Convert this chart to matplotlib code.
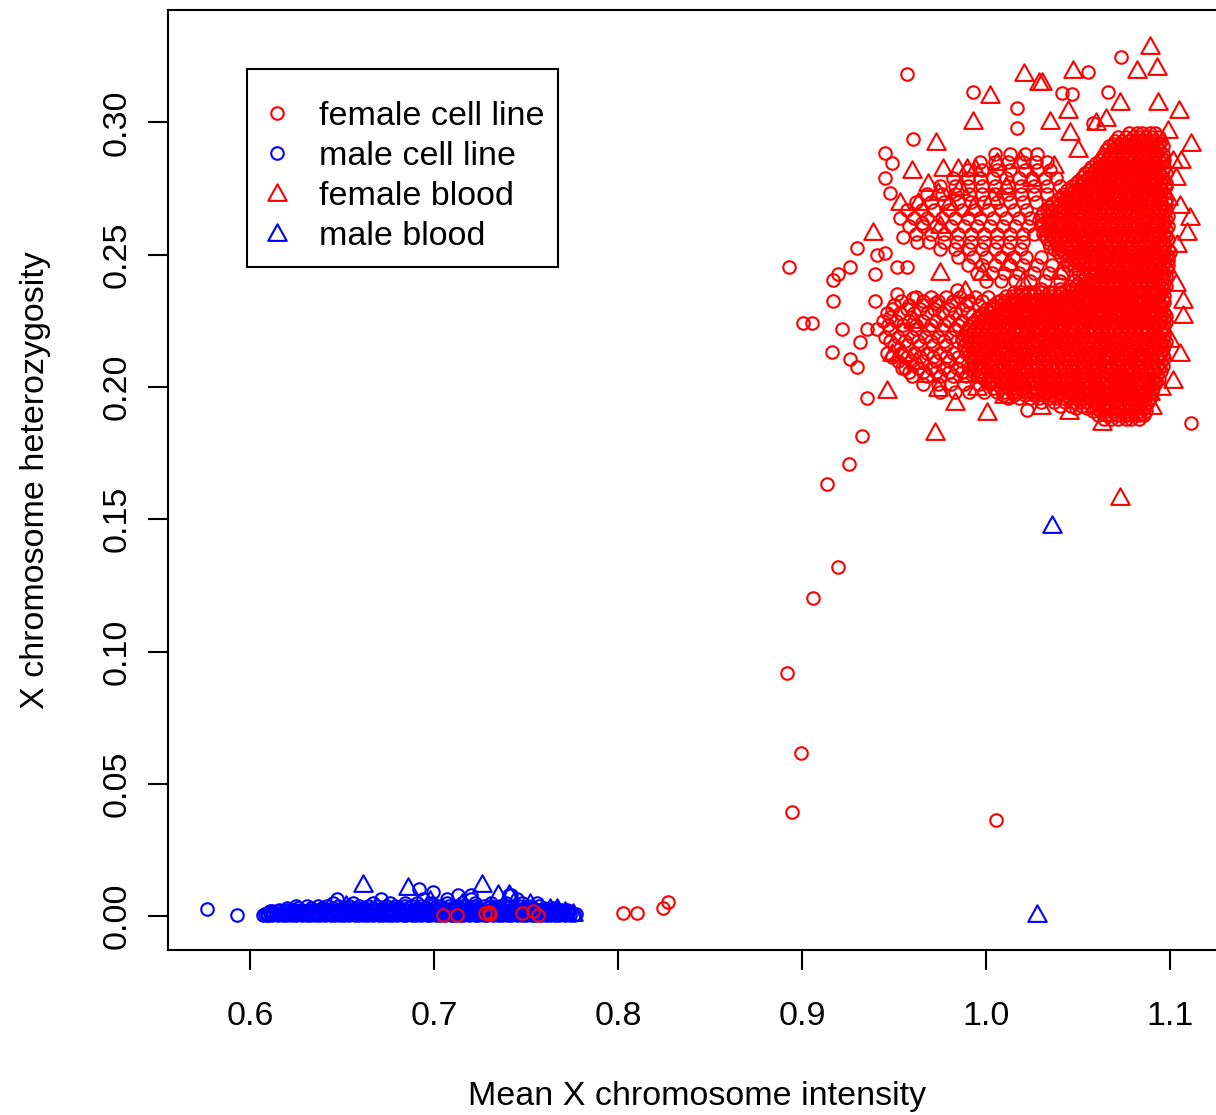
import matplotlib
matplotlib.use('Agg')
import matplotlib.pyplot as plt
from matplotlib.lines import Line2D
from matplotlib.patches import Rectangle
from matplotlib.path import Path

plt.rcParams['font.family'] = ['Liberation Sans', 'DejaVu Sans']

# ---- data ----
# rows are (y, "x x x ...") with both values in 1/1000 units

# male cell line (blue circles)
male_cell_x = [0.5766, 0.5929, 0.609, 0.611, 0.6995, 0.692, 0.742]
male_cell_y = [0.0026, 0.0004, 0.0005, 0.0020, 0.0090, 0.0102, 0.0080]
male_cell_rows = [
    (0.2, "607 610 612 615 618 620 623 625 628 631 633 636 638 641 644 646 649 651 654 657 659 662 664 667 670 672 675 677 680 683 685 688 690 693 696 698 701 703 706 709 711 714 716 719 722 724 727 729 732 735 737 740 742 745 748 750 753 755 758 761 763 766 768 771 774 776"),
    (0.7, "608 612 616 619 623 627 630 634 638 641 645 649 652 656 660 663 667 671 674 678 682 685 689 693 696 700 704 707 711 715 718 722 726 729 733 737 740 744 748 751 755 759 762 766 770 773 777"),
    (1.3, "609 611 614 617 619 622 624 627 630 632 635 637 640 643 645 648 650 653 656 658 661 663 666 669 671 674 676 679 682 684 687 689 692 695 697 700 702 705 708 710 713 715 718 721 723 726 728 731 734 736 739 741 744 747 749 752 754 757 760 762 765 767 770 773"),
    (1.8, "612 615 619 623 626 630 634 637 641 645 648 652 656 659 663 667 670 674 678 681 685 689 692 696 700 703 707 711 714 718 722 725 729 733 736 740 744 747 751 755 758 762 766 769 773"),
    (2.4, "616 620 624 628 632 636 639 643 647 651 655 658 662 666 670 674 677 681 685 689 693 696 700 704 708 712 715 719 723 727 731 734 738 742 746 750 753 757 761 765 769 772"),
    (3.0, "620 626 633 639 645 651 657 662 667 672 677 681 686 691 695 700 705 710 714 719 724 729 734 739 744 749 754 760 765"),
    (3.6, "625 631 637 642 648 654 659 664 669 674 679 684 688 693 698 703 708 712 717 722 727 731 736 741 746 751 757"),
    (5.0, "645 656 667 676 684 691 699 707 715 722 731 739 748 756"),
    (6.6, "647 671 694 707 720 745"),
    (8.0, "713 720 741"),
]

# male blood (blue triangles)
male_blood_x = [0.6614, 0.686, 0.726, 0.735, 0.741, 0.7755, 0.771, 0.767,
                0.652, 0.698, 0.715, 0.752, 0.763, 1.0359, 1.0277]
male_blood_y = [0.0122, 0.0108, 0.0122, 0.0085, 0.0082, 0.0012, 0.0020, 0.0030,
                0.0040, 0.0060, 0.0050, 0.0050, 0.0030, 0.1478, 0.0008]

# female cell line (red circles): isolated points
female_cell_x = [0.705, 0.7125, 0.7277, 0.7300, 0.7305, 0.748, 0.7538, 0.7565,
                 0.8027, 0.8103, 0.8245, 0.827,
                 0.8944, 0.8993, 0.8920, 0.9062, 0.9197, 0.9134, 0.9257, 0.9324,
                 0.9351, 1.0054, 1.1117, 1.0221,
                 0.8931, 0.9007, 0.9053, 0.9170, 0.9197, 0.9261, 0.9297, 0.9170,
                 0.9397, 0.9397, 0.9406, 0.9451, 0.9514, 0.9569, 0.9514, 0.9605,
                 0.9215, 0.9351, 0.9406, 0.9315, 0.9478, 0.9161, 0.9261, 0.9297,
                 0.9723, 0.9840, 0.9541,
                 0.9569, 0.9928, 1.0167, 1.0167, 0.9605, 0.9451, 0.9490, 0.9451,
                 0.9650, 0.9549, 0.9623, 0.9478, 1.0734, 1.0556, 1.0411, 1.0470,
                 1.0665, 1.0583]
female_cell_y = [0.0004, 0.0004, 0.0010, 0.0015, 0.0008, 0.0010, 0.0020, 0.0004,
                 0.0010, 0.0010, 0.0030, 0.0053,
                 0.0392, 0.0617, 0.0920, 0.1203, 0.1320, 0.1633, 0.1708, 0.1814,
                 0.1960, 0.0363, 0.1863, 0.1913,
                 0.2454, 0.2243, 0.2243, 0.2403, 0.2428, 0.2454, 0.2524, 0.2326,
                 0.2428, 0.2326, 0.2498, 0.2505, 0.2454, 0.2454, 0.2352, 0.2338,
                 0.2219, 0.2219, 0.2219, 0.2171, 0.2265, 0.2134, 0.2105, 0.2076,
                 0.2316, 0.2367, 0.2071,
                 0.3182, 0.3114, 0.3056, 0.2978, 0.2938, 0.2885, 0.2847, 0.2790,
                 0.2619, 0.2568, 0.2549, 0.2733, 0.3246, 0.3190, 0.3113, 0.3106,
                 0.3117, 0.2997]

# female cell line: the busy area left of the two dense lobes
female_cell_mid_rows = [
    (288, "1005 1013 1021 1028"),
    (285, "997 1005 1012 1020 1027 1033"),
    (282, "990 998 1006 1013 1021 1028 1035"),
    (279, "982 990 997 1004 1011 1018 1025 1032 1038"),
    (276, "975 983 990 998 1005 1012 1019 1026 1033 1040"),
    (273, "968 976 983 991 998 1005 1012 1019 1026 1033"),
    (270, "962 970 977 985 992 999 1006 1013 1020 1027"),
    (267, "957 965 972 980 987 994 1001 1008 1015 1022"),
    (264, "953 961 968 976 983 990 997 1004 1011 1018 1024"),
    (261, "958 966 973 981 988 995 1002 1009 1016 1023"),
    (258, "962 970 977 985 992 999 1006 1013 1020 1026"),
    (255, "969 977 984 992 999 1006 1013 1020"),
    (252, "975 983 991 998 1005 1012 1019"),
    (249, "985 993 1000 1008 1015 1022 1030"),
    (246, "990 998 1005 1013 1020 1028 1036 1044"),
    (243, "995 1003 1010 1018 1026 1034 1042 1050"),
    (240, "1000 1008 1016 1024 1032 1040 1048"),
    (234, "962 970 978 986 994 1001"),
    (232.5, "954 966 974 982 990 998"),
    (231, "950 958 966 974 981 989 996"),
    (229.5, "949 957 964 972 980 987"),
    (228, "946 953 961 968 976 983 990"),
    (225, "944 951 958 966 973 980 987"),
    (223.5, "947 955 962 970 977 985"),
    (222, "948 955 962 969 976 983"),
    (219, "945 952 960 967 974 981"),
    (217.5, "948 956 963 970 977 984"),
    (216, "950 957 964 971 978"),
    (213, "946 954 961 968 975 982"),
    (211.5, "949 957 964 971 978 985"),
    (210, "952 959 966 973 980 987"),
    (207, "956 963 970 977 984 991"),
    (205.5, "958 966 973 980 987 993"),
    (204, "960 968 975 982 989 995"),
    (201, "966 974 981 988 996"),
    (198, "975 983 991 999"),
]

# female cell line: the two solid lobes
female_cell_core_rows = [
    (296, "1078 1082 1085 1089 1092"),
    (294.5, "1072 1076 1080 1083 1087 1090 1094"),
    (293, "1070 1074 1077 1081 1084 1088 1091 1095"),
    (291, "1067 1071 1075 1078 1082 1085 1089 1093 1096"),
    (289.5, "1065 1069 1073 1076 1080 1083 1087 1091 1094"),
    (288, "1064 1067 1071 1074 1078 1082 1085 1089 1092 1096"),
    (286, "1062 1066 1069 1073 1076 1080 1084 1087 1091 1094 1097"),
    (284.5, "1060 1064 1067 1071 1074 1078 1082 1085 1089 1092 1096"),
    (283, "1057 1061 1064 1068 1072 1075 1079 1082 1086 1090 1093 1097"),
    (281, "1054 1058 1062 1065 1069 1073 1076 1080 1083 1087 1091 1094 1098"),
    (279.5, "1052 1056 1060 1063 1067 1071 1074 1078 1081 1085 1089 1092 1096"),
    (278, "1050 1053 1057 1061 1064 1068 1071 1075 1079 1082 1086 1089 1093 1096"),
    (276, "1047 1051 1055 1058 1062 1066 1069 1073 1076 1080 1084 1087 1091 1094 1098"),
    (274.5, "1044 1048 1052 1056 1059 1063 1067 1070 1074 1077 1081 1085 1088 1092 1095"),
    (273, "1042 1046 1049 1053 1057 1060 1064 1068 1071 1075 1078 1082 1086 1089 1093 1097"),
    (271, "1039 1043 1047 1050 1054 1058 1061 1065 1069 1072 1076 1079 1083 1087 1090 1094 1098"),
    (269.5, "1036 1040 1044 1048 1052 1055 1059 1063 1066 1070 1073 1077 1081 1084 1088 1091 1095 1098"),
    (268, "1034 1038 1042 1045 1049 1053 1056 1060 1063 1067 1071 1074 1078 1082 1085 1089 1092 1096"),
    (266, "1031 1035 1039 1042 1046 1050 1053 1057 1061 1064 1068 1071 1075 1079 1082 1086 1090 1093 1097"),
    (264.5, "1030 1034 1038 1041 1045 1049 1052 1056 1060 1063 1067 1070 1074 1078 1081 1085 1088 1092 1096 1099"),
    (263, "1029 1033 1036 1040 1044 1047 1051 1055 1058 1062 1065 1069 1073 1076 1080 1084 1087 1091 1094 1098"),
    (261, "1030 1034 1038 1041 1045 1049 1052 1056 1060 1063 1067 1070 1074 1078 1081 1085 1089 1092 1096 1099"),
    (259.5, "1032 1036 1040 1043 1047 1051 1054 1058 1062 1065 1069 1073 1076 1080 1084 1087 1091 1095 1098"),
    (258, "1031 1035 1039 1043 1046 1050 1054 1057 1061 1065 1068 1072 1075 1079 1083 1086 1090 1094 1097"),
    (256, "1033 1037 1041 1044 1048 1052 1055 1059 1063 1066 1070 1074 1077 1081 1084 1088 1092 1095 1099"),
    (254.5, "1034 1038 1042 1046 1049 1053 1057 1060 1064 1068 1071 1075 1079 1082 1086 1089 1093 1097"),
    (253, "1035 1039 1043 1046 1050 1054 1057 1061 1065 1068 1072 1076 1079 1083 1086 1090 1094 1097"),
    (251, "1039 1042 1046 1050 1053 1057 1061 1064 1068 1072 1075 1079 1083 1086 1090 1093 1097 1100"),
    (249.5, "1041 1045 1049 1053 1056 1060 1064 1067 1071 1075 1078 1082 1086 1089 1093 1096 1099"),
    (248, "1044 1048 1051 1055 1059 1062 1066 1070 1073 1077 1081 1084 1088 1091 1095 1099"),
    (246, "1048 1052 1056 1059 1063 1067 1070 1074 1078 1081 1085 1088 1092 1096 1099"),
    (244.5, "1050 1054 1058 1062 1065 1069 1073 1076 1080 1084 1087 1091 1094 1098"),
    (243, "1053 1057 1060 1064 1068 1071 1075 1079 1082 1086 1089 1093 1097"),
    (241, "1056 1060 1064 1067 1071 1075 1078 1082 1086 1089 1093 1096"),
    (239.5, "1050 1054 1058 1062 1065 1069 1073 1076 1080 1084 1087 1091 1094 1097"),
    (238, "1045 1049 1052 1055 1058 1062 1066 1069 1073 1077 1080 1084 1087 1091 1095 1098"),
    (236, "1015 1019 1023 1026 1030 1034 1037 1041 1045 1048 1052 1056 1059 1063 1066 1070 1074 1077 1081 1085 1088 1092 1095"),
    (234.5, "1011 1014 1018 1021 1025 1029 1032 1036 1039 1043 1047 1050 1054 1058 1061 1065 1068 1072 1076 1079 1083 1087 1090 1094 1097"),
    (233, "1008 1012 1016 1019 1023 1027 1030 1034 1038 1041 1045 1049 1052 1056 1059 1063 1067 1070 1074 1078 1081 1085 1088 1092 1096"),
    (231, "1004 1008 1011 1015 1019 1022 1026 1030 1033 1037 1041 1044 1048 1051 1055 1059 1062 1066 1070 1073 1077 1080 1084 1088 1091 1095"),
    (229.5, "1000 1004 1007 1011 1015 1018 1022 1026 1029 1033 1037 1040 1044 1047 1051 1055 1058 1062 1066 1069 1073 1077 1080 1084 1087 1091 1095"),
    (228, "998 1002 1006 1009 1013 1017 1020 1024 1028 1031 1035 1039 1042 1046 1049 1053 1057 1060 1064 1068 1071 1075 1079 1082 1086 1089 1093 1097"),
    (226, "995 999 1003 1006 1010 1014 1017 1021 1025 1028 1032 1036 1039 1043 1046 1050 1054 1057 1061 1065 1068 1072 1076 1079 1083 1086 1090 1094 1097"),
    (224.5, "993 997 1001 1004 1008 1012 1015 1019 1023 1026 1030 1034 1037 1041 1044 1048 1052 1055 1059 1063 1066 1070 1074 1077 1081 1085 1088 1092 1095 1098"),
    (223, "991 995 999 1002 1006 1010 1013 1017 1021 1024 1028 1031 1035 1039 1042 1046 1050 1053 1057 1061 1064 1068 1071 1075 1079 1082 1086 1090 1093 1097"),
    (221, "989 993 996 1000 1004 1007 1011 1015 1018 1022 1026 1029 1033 1036 1040 1044 1047 1051 1055 1058 1062 1066 1069 1073 1076 1080 1084 1087 1091 1095"),
    (219.5, "988 991 995 999 1002 1006 1010 1013 1017 1021 1024 1028 1031 1035 1039 1042 1046 1050 1053 1057 1061 1064 1068 1072 1075 1079 1082 1086 1090 1093 1097"),
    (218, "987 991 994 998 1002 1005 1009 1013 1016 1020 1024 1027 1031 1034 1038 1042 1045 1049 1053 1056 1060 1064 1067 1071 1074 1078 1082 1085 1089 1093 1096"),
    (216, "988 992 995 999 1003 1006 1010 1014 1017 1021 1025 1028 1032 1035 1039 1043 1046 1050 1054 1057 1061 1065 1068 1072 1075 1079 1083 1086 1090 1094 1097"),
    (214.5, "990 994 997 1001 1005 1008 1012 1016 1019 1023 1027 1030 1034 1037 1041 1045 1048 1052 1056 1059 1063 1067 1070 1074 1077 1081 1085 1088 1092 1096"),
    (213, "989 993 997 1000 1004 1008 1011 1015 1019 1022 1026 1029 1033 1037 1040 1044 1048 1051 1055 1059 1062 1066 1069 1073 1077 1080 1084 1088 1091 1095"),
    (211, "992 996 999 1003 1007 1010 1014 1018 1021 1025 1028 1032 1036 1039 1043 1047 1050 1054 1058 1061 1065 1068 1072 1076 1079 1083 1087 1090 1094 1097"),
    (209.5, "993 997 1001 1004 1008 1012 1015 1019 1022 1026 1030 1033 1037 1041 1044 1048 1051 1055 1059 1062 1066 1070 1073 1077 1081 1084 1088 1091 1095"),
    (208, "994 998 1002 1005 1009 1013 1016 1020 1024 1027 1031 1034 1038 1042 1045 1049 1053 1056 1060 1064 1067 1071 1074 1078 1082 1085 1089 1093 1096"),
    (206, "997 1001 1004 1008 1012 1015 1019 1023 1026 1030 1033 1037 1041 1044 1048 1052 1055 1059 1063 1066 1070 1073 1077 1081 1084 1088 1092 1095"),
    (204.5, "998 1002 1006 1009 1013 1016 1020 1024 1027 1031 1035 1038 1042 1045 1049 1053 1056 1060 1064 1067 1071 1074 1078 1082 1085 1089 1093"),
    (203, "999 1003 1007 1010 1014 1018 1021 1025 1029 1032 1036 1039 1043 1047 1050 1054 1058 1061 1065 1069 1072 1076 1079 1083 1087 1090 1094"),
    (201, "1002 1006 1009 1013 1017 1020 1024 1028 1031 1035 1038 1042 1046 1049 1053 1057 1060 1064 1068 1071 1075 1078 1082 1086 1089 1092"),
    (199.5, "1004 1008 1012 1015 1019 1022 1026 1030 1033 1037 1041 1044 1048 1051 1055 1059 1062 1066 1070 1073 1077 1080 1084 1088 1091"),
    (198, "1006 1010 1014 1017 1021 1025 1028 1032 1036 1039 1043 1046 1050 1054 1057 1061 1065 1068 1072 1076 1079 1083 1087 1090"),
    (196, "1012 1018 1024 1029 1034 1038 1042 1045 1049 1053 1056 1060 1064 1067 1071 1075 1078 1082 1086 1089"),
    (194.5, "1030 1037 1043 1048 1051 1055 1059 1062 1066 1070 1073 1077 1081 1084 1088"),
    (193, "1040 1046 1052 1057 1061 1065 1068 1072 1076 1079 1083 1087"),
    (191, "1058 1062 1066 1069 1073 1077 1080 1084 1087"),
    (189.5, "1061 1065 1068 1072 1076 1079 1083 1086"),
    (188, "1064 1068 1072 1076 1079 1083"),
]

# more points packed in between the lobe rows
female_cell_fill_rows = [
    (292, "1069 1073 1076 1080 1084 1087 1091 1094"),
    (287, "1063 1067 1070 1074 1077 1081 1085 1088 1092 1095"),
    (282, "1056 1059 1063 1067 1070 1074 1077 1081 1085 1088 1092 1096"),
    (277, "1049 1052 1056 1060 1063 1067 1070 1074 1078 1081 1085 1088 1092 1095 1098"),
    (272, "1041 1044 1048 1052 1055 1059 1063 1066 1070 1073 1077 1081 1084 1088 1092 1095"),
    (267, "1033 1036 1040 1044 1047 1051 1055 1058 1062 1066 1069 1073 1076 1080 1084 1087 1091 1095 1098"),
    (262, "1031 1035 1039 1042 1046 1050 1053 1057 1061 1064 1068 1071 1075 1079 1082 1086 1090 1093 1097"),
    (257, "1032 1036 1040 1043 1047 1051 1054 1058 1062 1065 1069 1073 1076 1080 1084 1087 1091 1094 1098"),
    (252, "1037 1041 1044 1048 1052 1055 1059 1063 1066 1070 1074 1077 1081 1085 1088 1092 1095 1099"),
    (247, "1046 1050 1053 1057 1061 1064 1068 1072 1075 1079 1083 1086 1090 1093 1097"),
    (242, "1054 1058 1062 1066 1069 1073 1077 1080 1084 1087 1091 1095 1098"),
    (237, "1030 1040 1047 1051 1054 1057 1060 1064 1068 1071 1075 1078 1082 1086 1089 1093 1096"),
    (232, "1006 1010 1013 1017 1021 1024 1028 1032 1035 1039 1043 1046 1050 1053 1057 1061 1064 1068 1072 1075 1079 1082 1086 1090 1093 1097"),
    (227, "997 1000 1004 1008 1011 1015 1019 1022 1026 1030 1033 1037 1040 1044 1048 1051 1055 1059 1062 1066 1070 1073 1077 1080 1084 1088 1091 1095 1098"),
    (222, "990 994 998 1001 1005 1009 1012 1016 1019 1023 1027 1030 1034 1038 1041 1045 1049 1052 1056 1059 1063 1067 1070 1074 1078 1081 1085 1088 1092 1096"),
    (217, "989 993 996 1000 1004 1007 1011 1015 1018 1022 1025 1029 1033 1036 1040 1044 1047 1051 1055 1058 1062 1065 1069 1073 1076 1080 1084 1087 1091 1095 1098"),
    (212, "991 994 998 1002 1005 1009 1013 1016 1020 1024 1027 1031 1034 1038 1042 1045 1049 1053 1056 1060 1064 1067 1071 1074 1078 1082 1085 1089 1093 1096"),
    (207, "996 999 1003 1007 1010 1014 1018 1021 1025 1028 1032 1036 1039 1043 1047 1050 1054 1058 1061 1065 1068 1072 1076 1079 1083 1087 1090 1094"),
    (202, "1001 1004 1008 1012 1015 1019 1023 1026 1030 1034 1037 1041 1044 1048 1052 1055 1059 1063 1066 1070 1074 1077 1081 1084 1088 1092"),
    (197, "1009 1015 1021 1026 1031 1035 1040 1044 1047 1051 1055 1058 1062 1066 1069 1073 1077 1080 1084 1088"),
    (192, "1049 1055 1060 1064 1067 1071 1075 1078 1082 1086"),
]

# female blood (red triangles)
female_blood_x = [1.0207, 1.0289, 1.0022, 0.9928, 0.9728, 0.9596, 0.9768, 0.9850,
                  0.9895, 0.9940, 1.0185, 1.0058, 0.9533, 0.9632, 0.9741, 0.9859,
                  0.9750, 1.0475, 1.0819, 1.0928, 1.0303, 1.0728, 1.0937, 1.1050,
                  1.1117, 1.0447, 1.0348, 1.0655, 1.0457, 1.0990, 1.1017, 1.1035,
                  1.1054, 1.1109, 1.1091, 1.0890, 0.9460, 0.9723, 1.0006, 0.9832,
                  0.9741, 0.9750, 0.9976, 0.9886, 1.0121, 0.9605, 0.9487, 1.1072,
                  1.1054, 1.1018, 1.0891, 1.0629, 1.0828, 1.0981, 1.0655, 1.0728,
                  0.9386, 0.9550, 0.9620, 0.9680, 0.9900, 0.9950, 1.0100, 1.0300,
                  1.0450, 1.0900, 1.0950, 0.9685, 0.9800, 0.9930, 1.0030, 1.0110,
                  1.0250, 1.0370, 1.0500, 1.0600, 1.1035, 1.1070, 1.1000, 1.1040,
                  1.0990, 1.1060, 1.0400, 1.0200]
female_blood_y = [0.3186, 0.3154, 0.3104, 0.3004, 0.2927, 0.2820, 0.2828, 0.2828,
                  0.2828, 0.2828, 0.2858, 0.2852, 0.2701, 0.2701, 0.2738, 0.2757,
                  0.2612, 0.3198, 0.3198, 0.3211, 0.3154, 0.3079, 0.3079, 0.3047,
                  0.2921, 0.3047, 0.3004, 0.3016, 0.2965, 0.2972, 0.2858, 0.2795,
                  0.2688, 0.2644, 0.2587, 0.3290, 0.1989, 0.1831, 0.1907, 0.1944,
                  0.1995, 0.2436, 0.2436, 0.2367, 0.2474, 0.2253, 0.2127, 0.2272,
                  0.2127, 0.2026, 0.1982, 0.1869, 0.1907, 0.2461, 0.1940, 0.1584,
                  0.2586, 0.2130, 0.2100, 0.2050, 0.2050, 0.2000, 0.1970, 0.1930,
                  0.1910, 0.1930, 0.2000, 0.2770, 0.2700, 0.2680, 0.2720, 0.2760,
                  0.2790, 0.2840, 0.2900, 0.3000, 0.2395, 0.2330, 0.2180, 0.2540,
                  0.2720, 0.2860, 0.2440, 0.2400]

legend_labels = ["female cell line", "male cell line", "female blood", "male blood"]
x_ticks = [0.6, 0.7, 0.8, 0.9, 1.0, 1.1]
y_ticks = [0.00, 0.05, 0.10, 0.15, 0.20, 0.25, 0.30]


def expand(rows):
    xs, ys = [], []
    for y, line in rows:
        for v in line.split():
            xs.append(float(v) / 1000)
            ys.append(y / 1000)
    return xs, ys


bx, by = expand(male_cell_rows)
male_cell_x = male_cell_x + bx
male_cell_y = male_cell_y + by
mx, my = expand(female_cell_mid_rows)
cx, cy = expand(female_cell_core_rows)
fx, fy = expand(female_cell_fill_rows)
female_cell_x = female_cell_x + mx + cx + fx
female_cell_y = female_cell_y + my + cy + fy

# ---- drawing ----
# R's pch=2 style open triangle
TRI = Path([(0, 1), (-1, -0.8), (1, -0.8), (0, 1)],
           [Path.MOVETO, Path.LINETO, Path.LINETO, Path.CLOSEPOLY])
circ = dict(ls='none', marker='o', mfc='none', ms=9.0, mew=1.5, antialiased=False)
tri = dict(ls='none', marker=TRI, mfc='none', ms=13.3, mew=1.5, antialiased=False)

fig = plt.figure(figsize=(12.16, 11.15), dpi=100)
ax = fig.add_axes([168 / 1216, 165 / 1115, 1059 / 1216, 940 / 1115])

ax.plot(male_cell_x, male_cell_y, mec='blue', **circ)
ax.plot(male_blood_x, male_blood_y, mec='blue', **tri)
ax.plot(female_cell_x, female_cell_y, mec='red', **circ)
ax.plot(female_blood_x, female_blood_y, mec='red', **tri)

ax.set_xlim(0.5554, 1.1310)
ax.set_ylim(-0.01285, 0.34253)
ax.set_xticks(x_ticks)
ax.set_xticklabels(['%.1f' % v for v in x_ticks])
ax.set_yticks(y_ticks)
ax.set_yticklabels(['%.2f' % v for v in y_ticks])
for lab in ax.get_yticklabels():
    lab.set_rotation(90)
    lab.set_va('center')
ax.tick_params(axis='x', length=14.5, width=1.5, pad=22, labelsize=24.5)
ax.tick_params(axis='y', length=14.5, width=1.5, pad=11, labelsize=24.5)
for s in ax.spines.values():
    s.set_linewidth(1.5)

fig.text(697.5 / 1216, 0.017, "Mean X chromosome intensity", fontsize=24.5,
         ha='center', va='center')
fig.text(36 / 1216, 1 - 480 / 1115, "X chromosome heterozygosity", fontsize=24.5,
         rotation=90, ha='center', va='center')

# legend: plain box like R's, entries placed inside it
ax.add_patch(Rectangle((79 / 1059, 1 - 257 / 940), 311 / 1059, 198 / 940,
                       transform=ax.transAxes, fill=True, facecolor='white',
                       edgecolor='black', linewidth=1.5, zorder=4))
handles = [
    Line2D([], [], mec='red', **circ),
    Line2D([], [], mec='blue', **circ),
    Line2D([], [], mec='red', **tri),
    Line2D([], [], mec='blue', **tri),
]
leg = ax.legend(handles, legend_labels, loc='upper left',
                bbox_to_anchor=(79 / 1059, 1 - 67 / 940), borderaxespad=0,
                fontsize=24.5, borderpad=0.7, handlelength=0.35,
                handletextpad=1.06, labelspacing=0.27, frameon=False)
leg.set_zorder(5)

fig.savefig('out.png', dpi=100, facecolor='white')
